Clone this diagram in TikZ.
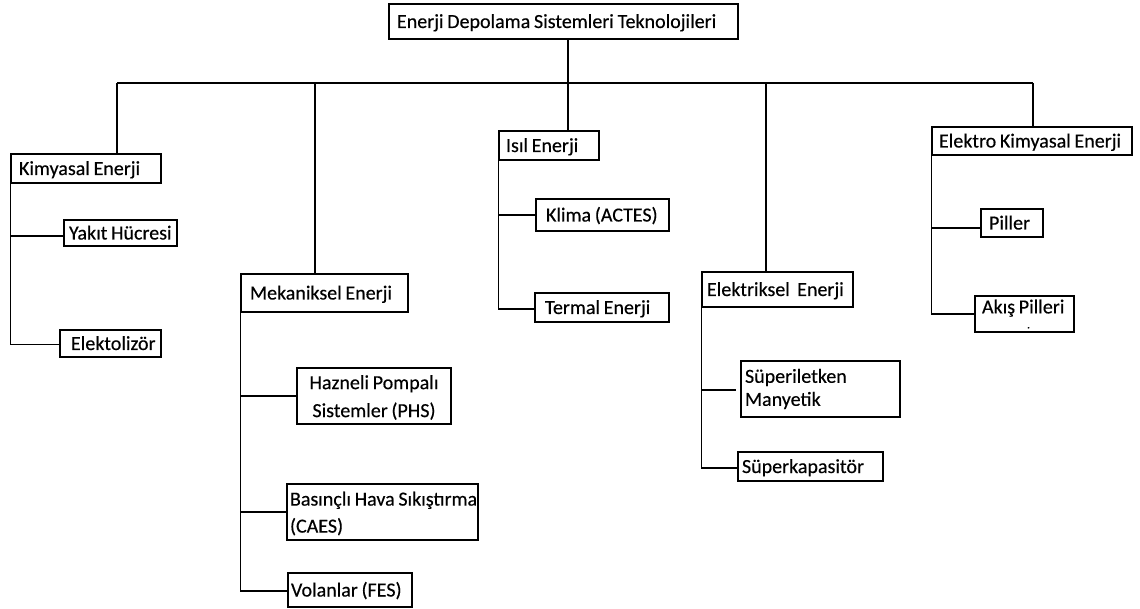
\documentclass[tikz,border=0pt]{standalone}
\usepackage{fontspec}
\setmainfont{Carlito}[FakeBold=0.35]
\newcommand\firstline{\rule{0pt}{17pt}}
% narrow word gap that never breaks a line
\newcommand\ws{\nobreak\hspace{3.7pt}\nobreak}
\begin{document}
\hyphenpenalty=10000
\exhyphenpenalty=10000
\begin{tikzpicture}[x=1pt,y=-1pt]
\tikzset{
  box/.style={draw=black, line width=1.3pt, inner ysep=0pt, align=left,
    font=\fontsize{20}{24}\selectfont, text=black},
  one/.style={text height=17pt, text depth=4pt},
  link/.style={draw=black, line width=1.5pt},
}
\useasboundingbox (0,0) rectangle (1140,609);

% root
\node[box, one, minimum width=349pt, minimum height=35pt, text width=333pt, inner xsep=8pt]
  (root) at (563.5,21.5) {Enerji\ws Depolama\ws Sistemleri\ws Teknolojileri};

% chemical
\node[box, one, minimum width=150pt, minimum height=29pt, text width=134pt, inner xsep=8pt]
  (kim) at (86,168.5) {Kimyasal\ws Enerji};
\node[box, one, minimum width=113pt, minimum height=26pt, text width=103pt, inner xsep=5pt]
  (yak) at (120.5,233) {Yakıt\ws Hücresi};
\node[box, one, minimum width=101pt, minimum height=27pt, text width=79pt, inner xsep=11pt]
  (elz) at (110.5,343.5) {Elektolizör};

% mechanical
\node[box, one, minimum width=167pt, minimum height=38pt, text width=149pt, inner xsep=9pt]
  (mek) at (324.5,293) {Mekaniksel\ws Enerji};
\node[box, minimum width=154pt, minimum height=56pt, text width=144pt, inner xsep=5pt, align=center]
  (haz) at (374,396) {\firstline Hazneli\ws Pompalı\\[4pt]Sistemler\ws (PHS)};
\node[box, minimum width=191pt, minimum height=56pt, text width=185pt, inner xsep=3pt]
  (bas) at (382.5,512) {\firstline Basınçlı\ws Hava\ws Sıkıştırma\\[3pt](CAES)};
\node[box, one, minimum width=124pt, minimum height=34pt, text width=118pt, inner xsep=3pt]
  (vol) at (350,590) {Volanlar\ws (FES)};

% thermal
\node[box, one, minimum width=100pt, minimum height=29pt, text width=86pt, inner xsep=7pt]
  (isil) at (549,145.5) {Isıl\ws Enerji};
\node[box, one, minimum width=133pt, minimum height=32pt, text width=113pt, inner xsep=10pt]
  (kli) at (602.5,215) {Klima\ws (ACTES)};
\node[box, one, minimum width=134pt, minimum height=29pt, text width=114pt, inner xsep=10pt]
  (ter) at (602,307.5) {Termal\ws Enerji};

% electrical
\node[box, one, minimum width=151pt, minimum height=35pt, text width=141pt, inner xsep=5pt]
  (elk) at (777.5,289.5) {Elektriksel\ws\ws Enerji};
\node[box, minimum width=159pt, minimum height=56pt, text width=151pt, inner xsep=4pt]
  (sup) at (820.5,389) {Süperiletken\\[-1pt]Manyetik};
\node[box, one, minimum width=145pt, minimum height=29pt, text width=137pt, inner xsep=4pt]
  (spk) at (810.5,466.5) {Süperkapasitör};

% electrochemical
\node[box, one, minimum width=200pt, minimum height=28pt, text width=186pt, inner xsep=7pt]
  (ekm) at (1032,141) {Elektro\ws Kimyasal\ws Enerji};
\node[box, one, minimum width=62pt, minimum height=28pt, text width=46pt, inner xsep=8pt]
  (pil) at (1012,223) {Piller};
\node[box, minimum width=99pt, minimum height=36pt, text width=85pt, inner xsep=7pt]
  (aks) at (1024.5,314) {Akış\ws Pilleri\\[-9pt]\hspace*{45pt}{\fontsize{12}{12}\selectfont .}};

% bus and drops
\coordinate (b1) at (117,83);
\coordinate (b2) at (315,83);
\coordinate (b3) at (568,83);
\coordinate (b4) at (766,83);
\coordinate (b5) at (1033,83);
\draw[link] (b1) -- (b5);
\draw[link] (root.south -| b3) -- (isil.north -| b3);
\draw[link] (b1) -- (b1 |- kim.north);
\draw[link] (b2) -- (b2 |- mek.north);
\draw[link] (b4) -- (b4 |- elk.north);
\draw[link] (b5) -- (b5 |- ekm.north);

% branches
\draw[link] (kim.south west) |- ([yshift=-3pt]yak.west);
\draw[link] (kim.south west) |- ([yshift=-1pt]elz.west);
\draw[link] (mek.south west) |- (haz.west);
\draw[link] (mek.south west) |- (bas.west);
\draw[link] (mek.south west) |- ([yshift=-1pt]vol.west);
\draw[link] (isil.south west) |- (kli.west);
\draw[link] (isil.south west) |- ([yshift=-1.5pt]ter.west);
\draw[link] (elk.south west) |- ([xshift=-4pt,yshift=-1pt]sup.west);
\draw[link] (elk.south west) |- ([yshift=-1.5pt]spk.west);
\draw[link] (ekm.south west) |- ([yshift=-5pt]pil.west);
\draw[link] (ekm.south west) |- (aks.west);
\end{tikzpicture}
\end{document}
